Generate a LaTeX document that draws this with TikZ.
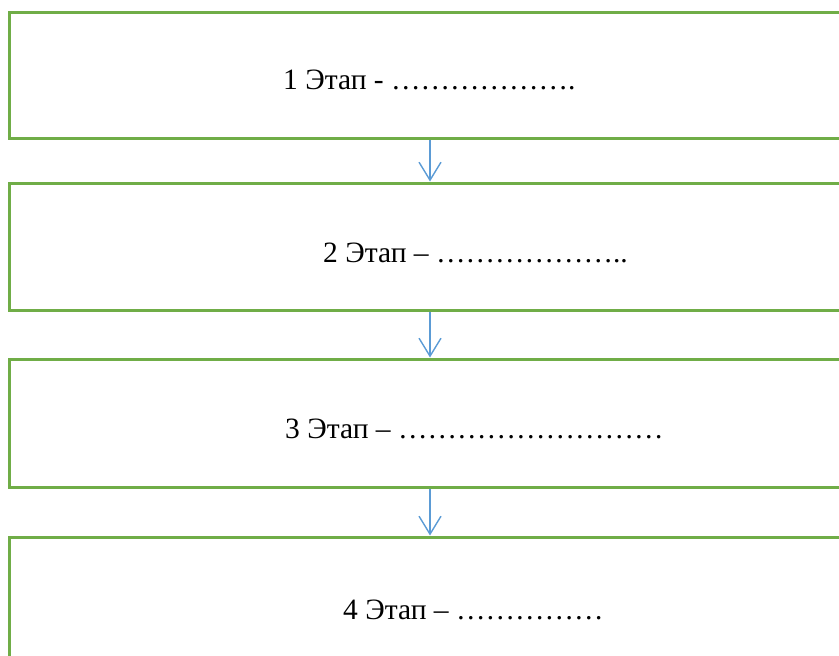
\documentclass[tikz,border=0pt]{standalone}
\usepackage{fontspec}
\setmainfont{Liberation Serif}
\usetikzlibrary{arrows.meta}
\definecolor{boxgreen}{HTML}{70AD47}
\definecolor{arrblue}{HTML}{5B9BD5}
\tikzset{
  stagebox/.style={draw=boxgreen, line width=3pt, fill=white, minimum width=850pt, inner sep=0pt},
  stagetext/.style={anchor=base west, inner sep=0pt, font=\fontsize{29.5}{35}\selectfont},
  arr/.style={draw=arrblue, line width=1.4pt, -{Straight Barb[length=18pt,width=22pt,line width=1.4pt]}}
}
\begin{document}
\begin{tikzpicture}[x=1pt,y=-1pt]
\clip (0,0) rectangle (839,656);
\useasboundingbox (0,0) rectangle (839,656);
\node[stagebox, minimum height=126pt] (b1) at (434.5,75) {};
\node[stagebox, minimum height=127pt] (b2) at (434.5,246.5) {};
\node[stagebox, minimum height=128pt] (b3) at (434.5,423) {};
\node[stagebox, minimum height=163pt] (b4) at (434.5,618.5) {};
\coordinate (ax) at (430,0);
\draw[arr] (b1.south -| ax) -- (b2.north -| ax);
\draw[arr] (b2.south -| ax) -- (b3.north -| ax);
\draw[arr] (b3.south -| ax) -- (b4.north -| ax);
\node[stagetext] (t1) at (283,89) {1 Этап - ……………….};
\node[stagetext] (t2) at (323,262) {2 Этап – ………………..};
\node[stagetext] (t3) at (285,438) {3 Этап – ………………………};
\node[stagetext] (t4) at (343,619) {4 Этап – ……………};
\end{tikzpicture}
\end{document}
